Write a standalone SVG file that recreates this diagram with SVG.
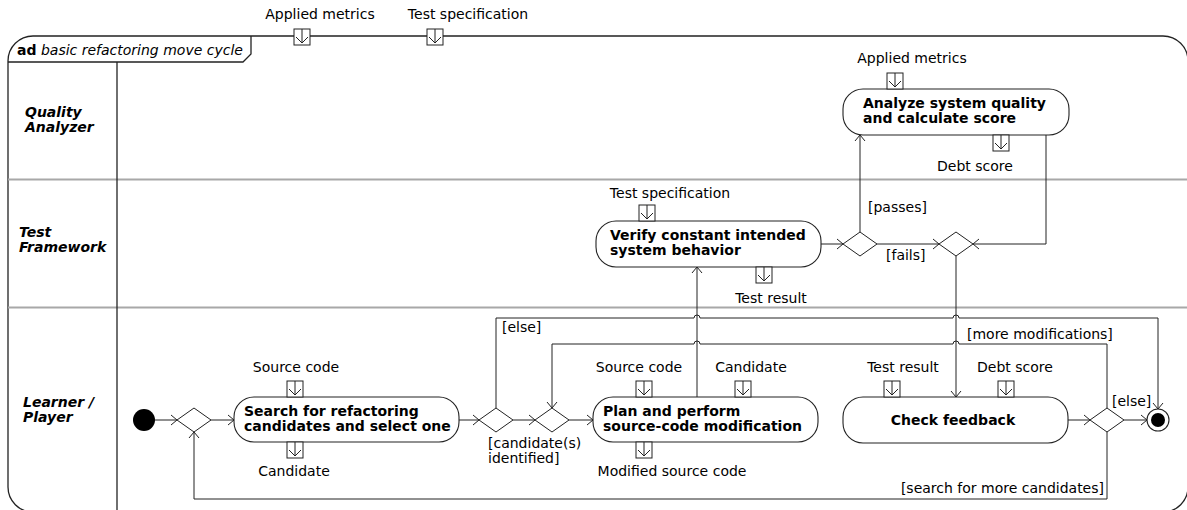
<svg xmlns="http://www.w3.org/2000/svg" xmlns:xlink="http://www.w3.org/1999/xlink" width="1187" height="510" viewBox="0 0 1187 510">
<style>
text{font-family:"DejaVu Sans","Liberation Sans",sans-serif;font-size:14px;fill:#000}
.b{font-weight:bold}
.i{font-style:italic}
.lane{font-weight:bold;font-style:italic}
.mid{text-anchor:middle}
.act{fill:#fff;stroke:#222;stroke-width:1.1}
.dec{fill:#fff;stroke:#222;stroke-width:1}
.edge{fill:none;stroke:#222;stroke-width:1}
.arr{marker-end:url(#arr)}
.sep{stroke:#a8a8a8;stroke-width:2;fill:none}
.frame{fill:none;stroke:#222;stroke-width:1.3}
</style>
<defs>
<marker id="arr" markerWidth="10" markerHeight="12" refX="9" refY="6" orient="auto" markerUnits="userSpaceOnUse">
<path d="M3,1 L9,6 L3,11" fill="none" stroke="#222" stroke-width="1"/>
</marker>
<g id="pin">
<rect x="0" y="0" width="16" height="16" fill="#fff" stroke="#222" stroke-width="1"/>
<path d="M8,0 V14 M2,8 L8,14 L14,8" fill="none" stroke="#222" stroke-width="1"/>
</g>
</defs>

<g id="frame">
<rect class="frame" x="8" y="36" width="1180" height="476" rx="25" ry="25"/>
<path class="frame" d="M8,62 H243 L251,54 V36"/>
<text x="17" y="55"><tspan class="b">ad</tspan> <tspan class="i">basic refactoring move cycle</tspan></text>
<use xlink:href="#pin" x="294" y="29"/>
<text class="mid" x="320" y="19">Applied metrics</text>
<use xlink:href="#pin" x="427" y="29"/>
<text class="mid" x="468" y="19">Test specification</text>
</g>

<g id="lanes">
<path class="sep" d="M8,179.5 H1188 M8,307.5 H1188"/>
<path d="M117,62 V512" stroke="#222" stroke-width="1.3" fill="none"/>
<text class="lane" x="25" y="117">Quality</text>
<text class="lane" x="25" y="132">Analyzer</text>
<text class="lane" x="19" y="237">Test</text>
<text class="lane" x="19" y="252">Framework</text>
<text class="lane" x="23" y="407">Learner /</text>
<text class="lane" x="23" y="422">Player</text>
</g>

<g id="connectors">
<path class="edge arr" d="M155,420 H177"/>
<path class="edge arr" d="M211,420 H234"/>
<path class="edge arr" d="M459,420 H479"/>
<path class="edge arr" d="M513,420 H535"/>
<path class="edge arr" d="M569,420 H593"/>
<path class="edge arr" d="M697,397 V267"/>
<path class="edge arr" d="M821,244 H843"/>
<path class="edge arr" d="M860,232 V135"/>
<path class="edge arr" d="M877,244 H939"/>
<path class="edge arr" d="M1046,135 V244 H973"/>
<path class="edge arr" d="M956,256 V397"/>
<path class="edge arr" d="M1068,420 H1090"/>
<path class="edge arr" d="M1124,420 H1147"/>
<path class="edge arr" d="M1107,432 V499 H194 V432"/>
<path class="edge arr" d="M1107,408 V344 H959 a3,3 0 0 0 -6,0 H700 a3,3 0 0 0 -6,0 H552 V408"/>
<path class="edge arr" d="M496,408 V318 H694 a3,3 0 0 1 6,0 H953 a3,3 0 0 1 6,0 H1158 V409"/>
<text x="868" y="212">[passes]</text>
<text x="886" y="260">[fails]</text>
<text x="502" y="332">[else]</text>
<text x="488" y="448">[candidate(s)</text>
<text x="488" y="463">identified]</text>
<text x="967" y="339">[more modifications]</text>
<text x="1112" y="406">[else]</text>
<text x="1104" y="493" text-anchor="end">[search for more candidates]</text>
</g>

<g id="initial">
<circle cx="144" cy="420" r="11" fill="#000"/>
</g>
<g id="final">
<circle cx="1158" cy="420" r="11" fill="#fff" stroke="#222" stroke-width="1.1"/>
<circle cx="1158" cy="420" r="7" fill="#000"/>
</g>

<g id="d0"><path class="dec" d="M177,420 L194,408 L211,420 L194,432 Z"/></g>
<g id="dcand"><path class="dec" d="M479,420 L496,408 L513,420 L496,432 Z"/></g>
<g id="dmerge"><path class="dec" d="M535,420 L552,408 L569,420 L552,432 Z"/></g>
<g id="d1"><path class="dec" d="M843,244 L860,232 L877,244 L860,256 Z"/></g>
<g id="d2"><path class="dec" d="M939,244 L956,232 L973,244 L956,256 Z"/></g>
<g id="d3"><path class="dec" d="M1090,420 L1107,408 L1124,420 L1107,432 Z"/></g>

<g id="analyze">
<rect class="act" x="843" y="89" width="226" height="46" rx="20"/>
<text class="b" x="863" y="108">Analyze system quality</text>
<text class="b" x="863" y="123">and calculate score</text>
<use xlink:href="#pin" x="887" y="73"/>
<text class="mid" x="912" y="63">Applied metrics</text>
<use xlink:href="#pin" x="993" y="135"/>
<text class="mid" x="975" y="171">Debt score</text>
</g>

<g id="verify">
<rect class="act" x="596" y="221" width="225" height="46" rx="20"/>
<text class="b" x="610" y="240">Verify constant intended</text>
<text class="b" x="610" y="255">system behavior</text>
<use xlink:href="#pin" x="639" y="205"/>
<text class="mid" x="670" y="198">Test specification</text>
<use xlink:href="#pin" x="756" y="267"/>
<text class="mid" x="771" y="303">Test result</text>
</g>

<g id="search">
<rect class="act" x="234" y="397" width="225" height="45" rx="20"/>
<text class="b" x="244" y="416">Search for refactoring</text>
<text class="b" x="244" y="431">candidates and select one</text>
<use xlink:href="#pin" x="287" y="381"/>
<text class="mid" x="296" y="372">Source code</text>
<use xlink:href="#pin" x="287" y="442"/>
<text class="mid" x="294" y="476">Candidate</text>
</g>

<g id="plan">
<rect class="act" x="593" y="397" width="225" height="45" rx="20"/>
<text class="b" x="603" y="416">Plan and perform</text>
<text class="b" x="603" y="431">source-code modification</text>
<use xlink:href="#pin" x="636" y="381"/>
<text class="mid" x="639" y="372">Source code</text>
<use xlink:href="#pin" x="735" y="381"/>
<text class="mid" x="751" y="372">Candidate</text>
<use xlink:href="#pin" x="636" y="442"/>
<text class="mid" x="672" y="476">Modified source code</text>
</g>

<g id="check">
<rect class="act" x="843" y="397" width="225" height="46" rx="20"/>
<text class="b mid" x="953" y="425">Check feedback</text>
<use xlink:href="#pin" x="884" y="381"/>
<text class="mid" x="903" y="372">Test result</text>
<use xlink:href="#pin" x="998" y="381"/>
<text class="mid" x="1015" y="372">Debt score</text>
</g>
</svg>
